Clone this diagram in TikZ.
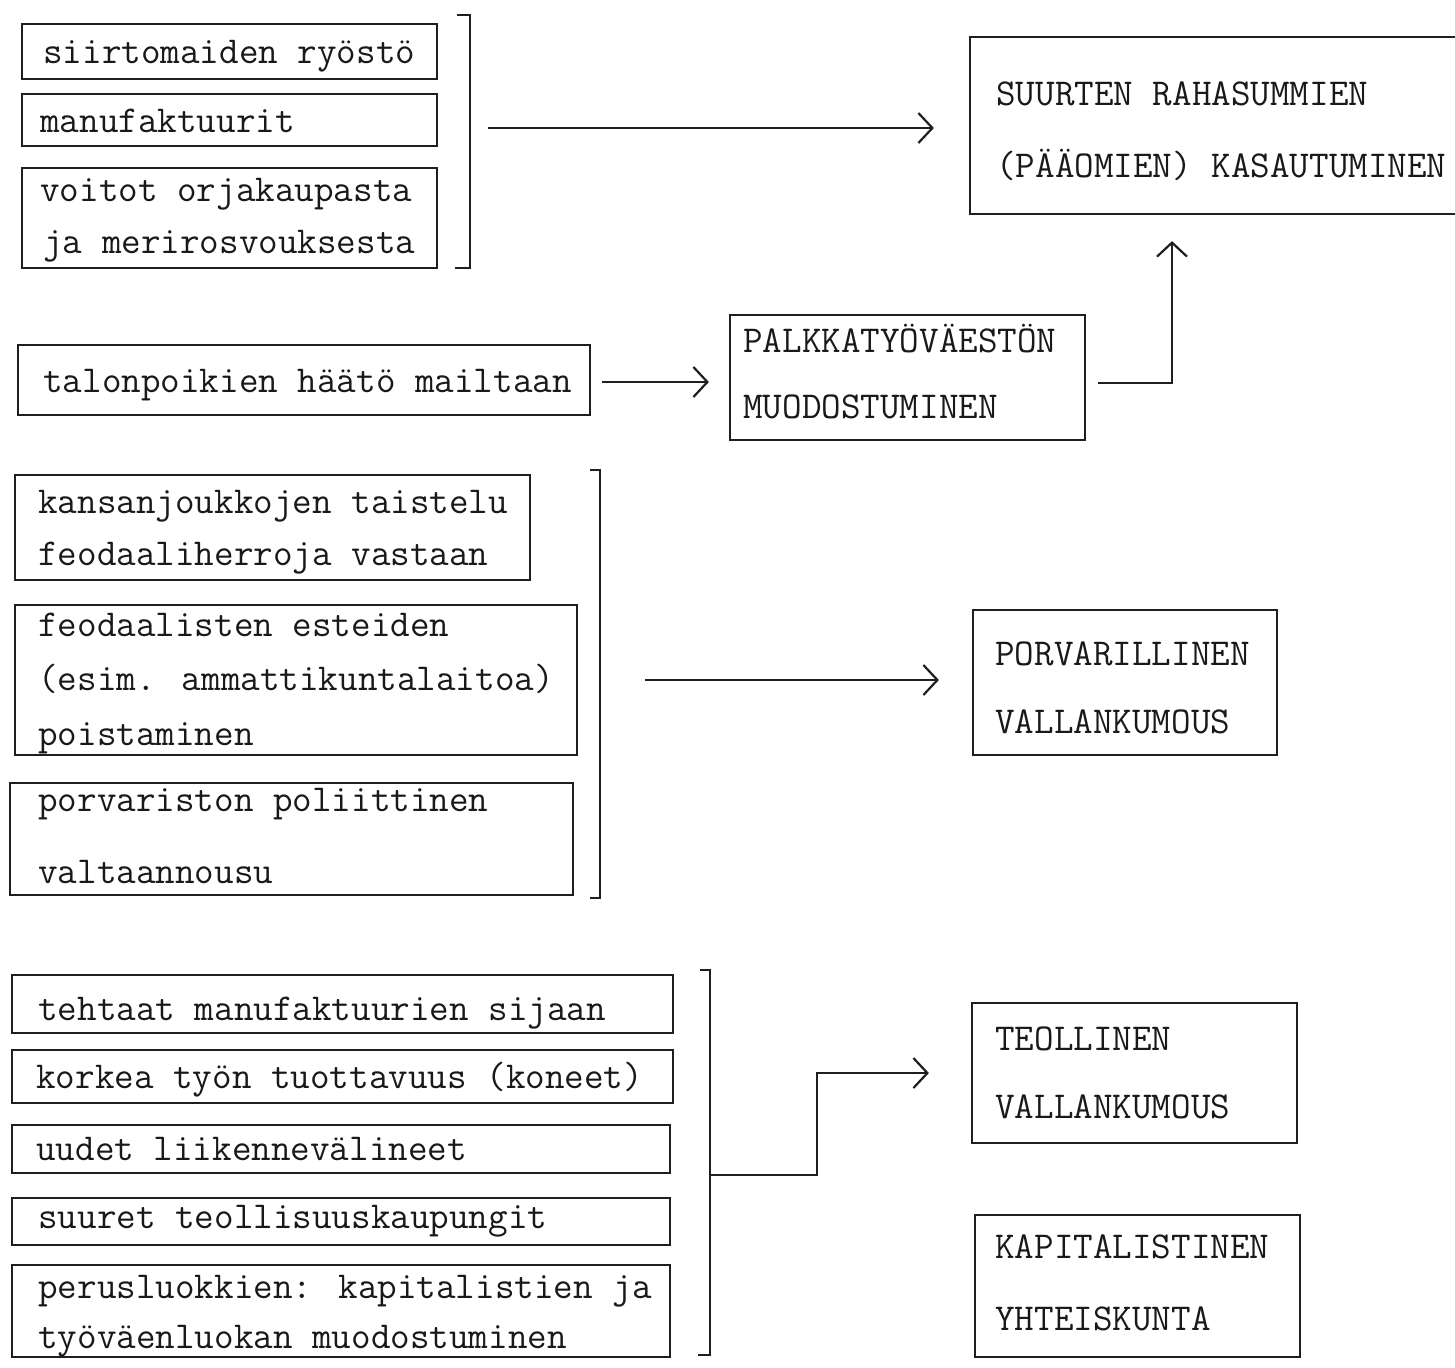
\documentclass[tikz,border=0pt]{standalone}
\usepackage{fontspec}
\usetikzlibrary{fit,arrows.meta}
\tikzset{
  box/.style={draw=black!88, line width=1.1pt, inner sep=0pt},
  txt/.style={font=\ttfamily\fontsize{19}{20}\selectfont, text=black!90, anchor=base west, inner sep=0pt},
  conn/.style={draw=black!88, line width=1.1pt, -{Straight Barb[length=7pt,width=15pt,line width=1.1pt]}},
  brk/.style={draw=black!88, line width=1.1pt}
}
\begin{document}
\begin{tikzpicture}[x=0.5pt,y=-0.5pt]
\clip (0,0) rectangle (1455,1367);
\fill[white] (0,0) rectangle (1455,1367);

% --- group 1
\node[box, fit={(22,24) (437,79)}] (b1) {};
\node[box, fit={(22,94) (437,146)}] (b2) {};
\node[box, fit={(22,168) (437,268)}] (b3) {};
\node[txt] (t1) at (43,63) {siirtomaiden ryöstö};
\node[txt] (t2) at (40,132) {manufaktuurit};
\node[txt] (t3a) at (40,201) {voitot orjakaupasta};
\node[txt] (t3b) at (43,253) {ja merirosvouksesta};
\draw[brk] (457,15) -- (470,15) -- (470,268) -- (455,268);
\coordinate (br1) at (470,128);

\node[box, fit={(970,37) (1480,214)}] (suurten) {};
\node[txt] (s1) at (996,105) {SUURTEN RAHASUMMIEN};
\node[txt] (s2) at (996,177) {(PÄÄOMIEN) KASAUTUMINEN};

\draw[conn, shorten <=9pt, shorten >=17.5pt] (br1) -- (suurten.west |- br1);

% --- group 2
\node[box, fit={(18,345) (590,415)}] (talon) {};
\node[txt] (tt) at (43,392) {talonpoikien häätö mailtaan};
\node[box, fit={(730,315) (1085,440)}] (palk) {};
\node[txt] (p1) at (743,352) {PALKKATYÖVÄESTÖN};
\node[txt] (p2) at (743,418) {MUODOSTUMINEN};
\coordinate (c2) at (590,382);
\draw[conn, shorten <=6pt, shorten >=10pt] (c2) -- (palk.west |- c2);
\coordinate (c3) at (1172,383);
\draw[conn, shorten <=6pt, shorten >=13pt] (palk.east |- c3) -- (c3) -- (c3 |- suurten.south);

% --- group 3
\node[box, fit={(15,475) (530,580)}] (kans) {};
\node[txt] (k1) at (38,513) {kansanjoukkojen taistelu};
\node[txt] (k2) at (38,565) {feodaaliherroja vastaan};
\node[box, fit={(15,605) (577,755)}] (feod) {};
\node[txt] (f1) at (38,636) {feodaalisten esteiden};
\node[txt] (f2) at (38,690) {(esim. ammattikuntalaitoa)};
\node[txt] (f3) at (38,745) {poistaminen};
\node[box, fit={(10,783) (573,895)}] (porv) {};
\node[txt] (v1) at (38,811) {porvariston poliittinen};
\node[txt] (v2) at (38,883) {valtaannousu};
\draw[brk] (590,470) -- (600,470) -- (600,898) -- (590,898);
\coordinate (br2) at (600,680);

\node[box, fit={(973,610) (1277,755)}] (porvvk) {};
\node[txt] (pv1) at (995,665) {PORVARILLINEN};
\node[txt] (pv2) at (995,733) {VALLANKUMOUS};
\draw[conn, shorten <=22.5pt, shorten >=16.5pt] (br2) -- (porvvk.west |- br2);

% --- group 4
\node[box, fit={(12,975) (673,1033)}] (teht) {};
\node[txt] (h1) at (38,1020) {tehtaat manufaktuurien sijaan};
\node[box, fit={(12,1050) (673,1103)}] (kork) {};
\node[txt] (h2) at (36,1088) {korkea työn tuottavuus (koneet)};
\node[box, fit={(12,1125) (670,1173)}] (uud) {};
\node[txt] (h3) at (36,1160) {uudet liikennevälineet};
\node[box, fit={(12,1198) (670,1245)}] (suur) {};
\node[txt] (h4) at (38,1228) {suuret teollisuuskaupungit};
\node[box, fit={(12,1265) (670,1357)}] (perus) {};
\node[txt] (h5) at (38,1298) {perusluokkien: kapitalistien ja};
\node[txt] (h6) at (38,1348) {työväenluokan muodostuminen};
\draw[brk] (700,970) -- (710,970) -- (710,1355) -- (698,1355);
\coordinate (br3) at (710,1175);
\coordinate (c4) at (817,1175);

\node[box, fit={(972,1003) (1297,1143)}] (teoll) {};
\node[txt] (e1) at (995,1050) {TEOLLINEN};
\node[txt] (e2) at (995,1118) {VALLANKUMOUS};
\node[box, fit={(975,1215) (1300,1357)}] (kapit) {};
\node[txt] (a1) at (995,1258) {KAPITALISTINEN};
\node[txt] (a2) at (995,1330) {YHTEISKUNTA};

\draw[conn, shorten >=21pt] (br3) -- (c4) -- (c4 |- teoll.west) -- (teoll.west);
\end{tikzpicture}
\end{document}
